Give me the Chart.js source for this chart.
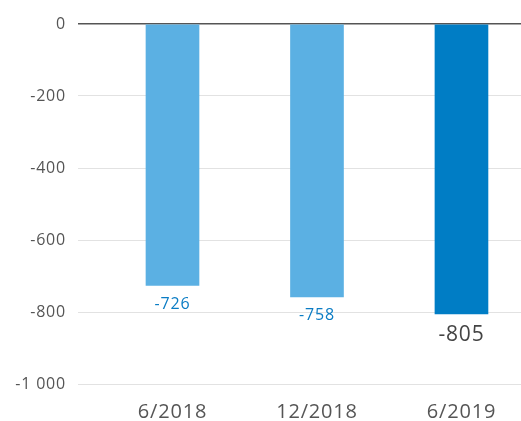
<!DOCTYPE html>
<html>
<head>
<meta charset="utf-8">
<script src="https://cdn.jsdelivr.net/npm/chart.js@4"></script>
<style>
  html, body { margin: 0; padding: 0; background: #fff; }
  #wrap { width: 521px; height: 421px; }
</style>
</head>
<body>
<div id="wrap"><canvas id="barChart" width="521" height="421"></canvas></div>
<script>
// data for the bars
const periods = ['6/2018', '12/2018', '6/2019'];
const values = [-726, -758, -805];
const barColors = ['#5BB0E3', '#5BB0E3', '#007DC5'];
const yTicks = [0, -200, -400, -600, -800, -1000];

// a bit wider text, like the original font
const spacingPlugin = {
  id: 'spacing',
  beforeDraw(chart) { chart.ctx.letterSpacing = '0.8px'; }
};

// value labels under each bar
const labelPlugin = {
  id: 'barLabels',
  afterDatasetsDraw(chart) {
    const ctx = chart.ctx;
    const meta = chart.getDatasetMeta(0);
    meta.data.forEach((bar, i) => {
      const last = i === values.length - 1;
      ctx.save();
      ctx.font = last ? '21px "Open Sans"' : '16px "Open Sans"';
      ctx.fillStyle = last ? '#444444' : '#0A7CC4';
      ctx.textAlign = 'center';
      ctx.textBaseline = 'top';
      ctx.fillText(String(values[i]), bar.x, bar.y + (last ? 11 : 11));
      ctx.restore();
    });
  }
};

const fmt = v => {
  const s = Math.abs(v).toString().replace(/\B(?=(\d{3})+(?!\d))/g, ' ');
  return (v < 0 ? '-' : '') + s;
};

const data = {
  datasets: [{
    data: values.map((v, i) => ({ x: i, y: v })),
    backgroundColor: barColors,
    barThickness: 53,
    borderWidth: 0
  }]
};

const config = {
  type: 'bar',
  data: data,
  plugins: [spacingPlugin, labelPlugin],
  options: {
    responsive: false,
    animation: false,
    layout: { padding: { top: 24, right: 0, left: 0, bottom: 0 } },
    plugins: { legend: { display: false }, tooltip: { enabled: false } },
    scales: {
      x: {
        type: 'linear',
        min: -0.654,
        max: 2.412,
        offset: false,
        grid: { display: false },
        border: { display: false },
        afterBuildTicks: axis => { axis.ticks = periods.map((p, i) => ({ value: i })); },
        afterFit: axis => { axis.height = 37; },
        ticks: {
          autoSkip: false,
          maxRotation: 0,
          padding: 8,
          color: '#555555',
          font: { family: 'Open Sans', size: 20 },
          callback: v => periods[v]
        }
      },
      y: {
        min: -1000,
        max: 0,
        afterBuildTicks: axis => { axis.ticks = yTicks.map(v => ({ value: v })); },
        afterFit: axis => { axis.width = 78; },
        border: { display: false },
        grid: {
          drawTicks: false,
          color: ctx => ctx.tick && ctx.tick.value === 0 ? '#555555' : '#E2E2E2',
          lineWidth: ctx => ctx.tick && ctx.tick.value === 0 ? 1.5 : 1
        },
        ticks: {
          padding: 12,
          color: '#555555',
          font: { family: 'Open Sans', size: 16 },
          callback: v => fmt(v)
        }
      }
    }
  }
};

const barChart = new Chart(document.getElementById('barChart'), config);
</script>
</body>
</html>
